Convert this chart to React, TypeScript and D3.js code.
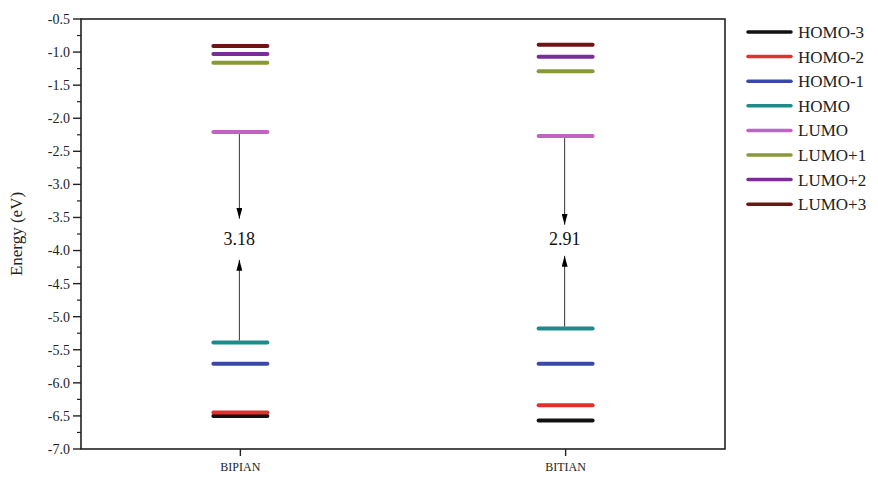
import React from "react";
import * as d3 from "d3";

const molecules = ["BIPIAN", "BITIAN"];
const orbitals = ["HOMO-3", "HOMO-2", "HOMO-1", "HOMO", "LUMO", "LUMO+1", "LUMO+2", "LUMO+3"];
const colors = ["#111111", "#e03030", "#3a48a8", "#1f8a8a", "#c262c2", "#8a9838", "#7a2c98", "#6e1414"];
const bipianEnergies = [-6.5, -6.45, -5.71, -5.39, -2.21, -1.16, -1.03, -0.91];
const bitianEnergies = [-6.57, -6.34, -5.71, -5.18, -2.27, -1.29, -1.07, -0.89];
const gapLabels = ["3.18", "2.91"];
const downArrowTips = [-3.52, -3.61];
const upArrowTips = [-4.14, -4.08];
const labelEnergy = [-3.82, -3.82];
const yTicks = [-0.5, -1.0, -1.5, -2.0, -2.5, -3.0, -3.5, -4.0, -4.5, -5.0, -5.5, -6.0, -6.5, -7.0];

const W = 878, H = 479;
const M = { left: 81, top: 19, right: 725, bottom: 449 };
const FONT = "Liberation Serif, Times New Roman, Times, serif";

export default function App() {
  const x = d3.scalePoint<string>().domain(molecules).range([M.left, M.right]).padding(0.49);
  const y = d3.scaleLinear().domain([-7.0, -0.5]).range([M.bottom, M.top]);
  const minorTicks = d3.range(-6.75, -0.5, 0.5);
  const energies = [bipianEnergies, bitianEnergies];
  const halfLen = 27;

  return (
    <svg width={W} height={H} style={{ position: "absolute", left: 0, top: 0, background: "#fff", fontFamily: FONT }}>
      <defs>
        <marker id="ah" viewBox="0 0 10 10" refX="10" refY="5" markerWidth="11" markerHeight="6" preserveAspectRatio="none" orient="auto-start-reverse" markerUnits="userSpaceOnUse">
          <path d="M0,0 L10,5 L0,10 z" fill="#000" />
        </marker>
      </defs>
      <rect x={M.left} y={M.top} width={M.right - M.left} height={M.bottom - M.top} fill="none" stroke="#222" strokeWidth={1.6} />
      {yTicks.map((t) => (
        <g key={t}>
          <line x1={M.left - 8} x2={M.left} y1={y(t)} y2={y(t)} stroke="#222" strokeWidth={1.4} />
          <text x={M.left - 11} y={y(t)} dy="0.35em" textAnchor="end" fontSize={14} fill="#222" style={{ fontFamily: FONT }}>{t.toFixed(1)}</text>
        </g>
      ))}
      {minorTicks.map((t) => (
        <line key={t} x1={M.left - 4} x2={M.left} y1={y(t)} y2={y(t)} stroke="#222" strokeWidth={1.2} />
      ))}
      <text transform={`translate(22,${(M.top + M.bottom) / 2}) rotate(-90)`} textAnchor="middle" fontSize={17} fill="#222" style={{ fontFamily: FONT }}>Energy (eV)</text>
      {molecules.map((m) => (
        <g key={m}>
          <line x1={x(m)} x2={x(m)} y1={M.bottom} y2={M.bottom + 7} stroke="#222" strokeWidth={1.4} />
          <text x={x(m)} y={M.bottom + 22} textAnchor="middle" fontSize={12} fill="#222" style={{ fontFamily: FONT }}>{m}</text>
        </g>
      ))}
      {molecules.map((m, i) => (
        <g key={m}>
          {energies[i].map((e, k) => (
            <line key={k} x1={x(m)! - halfLen} x2={x(m)! + halfLen} y1={y(e)} y2={y(e)} stroke={colors[k]} strokeWidth={4} strokeLinecap="round" />
          ))}
          <line x1={x(m)! - 1} x2={x(m)! - 1} y1={y(energies[i][4]) + 2} y2={y(downArrowTips[i])} stroke="#333" strokeWidth={1} markerEnd="url(#ah)" />
          <line x1={x(m)! - 1} x2={x(m)! - 1} y1={y(energies[i][3]) - 2} y2={y(upArrowTips[i])} stroke="#333" strokeWidth={1} markerEnd="url(#ah)" />
          <text x={x(m)! - 1} y={y(labelEnergy[i])} dy="0.35em" textAnchor="middle" fontSize={18} fill="#111" style={{ fontFamily: FONT }}>{gapLabels[i]}</text>
        </g>
      ))}
      {orbitals.map((o, k) => {
        const ly = 32 + k * 24.6;
        return (
          <g key={o}>
            <line x1={748} x2={791} y1={ly} y2={ly} stroke={colors[k]} strokeWidth={3.5} strokeLinecap="round" />
            <text x={798} y={ly} dy="0.35em" fontSize={17} fill="#222" style={{ fontFamily: FONT }}>{o}</text>
          </g>
        );
      })}
    </svg>
  );
}
